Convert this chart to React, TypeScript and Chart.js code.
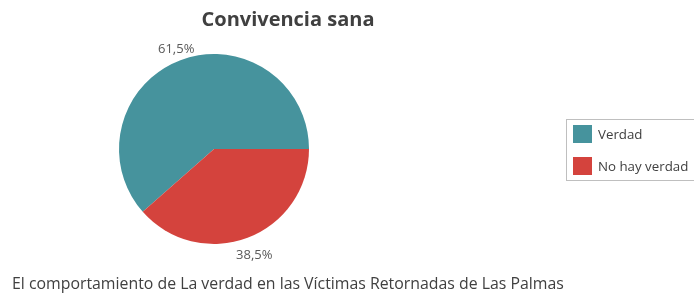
import React, { useEffect, useRef } from "react";
import { Chart, registerables } from "chart.js";

Chart.register(...registerables);

const categories = ["Verdad", "No hay verdad"];
const values = [61.5, 38.5];
const valueLabels = ["61,5%", "38,5%"];
const colors = ["#46939D", "#D4433D"];
const titleText = "Convivencia sana";
const captionText = "El comportamiento de La verdad en las Víctimas Retornadas de Las Palmas";

const FONT = "'Open Sans', 'Noto Sans', sans-serif";

const overlayPlugin = {
  id: "overlay",
  afterDraw(chart: any) {
    const ctx = chart.ctx as CanvasRenderingContext2D;
    ctx.save();
    // title
    ctx.fillStyle = "#404040";
    ctx.font = `bold 20px ${FONT}`;
    ctx.textAlign = "center";
    ctx.textBaseline = "alphabetic";
    ctx.fillText(titleText, 288, 26);

    // value labels outside slices
    const meta = chart.getDatasetMeta(0);
    ctx.font = `13px ${FONT}`;
    ctx.fillStyle = "#595959";
    ctx.textBaseline = "middle";
    meta.data.forEach((arc: any, i: number) => {
      const p = arc.getProps(["x", "y", "startAngle", "endAngle", "outerRadius"], true);
      const mid = (p.startAngle + p.endAngle) / 2;
      const r = p.outerRadius + (Math.sin(mid) > 0 ? 19 : 12);
      ctx.textAlign = "center";
      ctx.fillText(valueLabels[i], p.x + Math.cos(mid) * r, p.y + Math.sin(mid) * r);
    });

    // legend
    ctx.strokeStyle = "#BFBFBF";
    ctx.lineWidth = 1;
    ctx.strokeRect(566.5, 119.5, 140, 61);
    ctx.font = `13.3px ${FONT}`;
    ctx.textAlign = "left";
    ctx.textBaseline = "middle";
    categories.forEach((c, i) => {
      const y = 125 + i * 32;
      ctx.fillStyle = colors[i];
      ctx.fillRect(573, y, 19, 18);
      ctx.fillStyle = "#404040";
      ctx.fillText(c, 598, y + 10);
    });

    // caption
    ctx.font = `15.85px ${FONT}`;
    ctx.fillStyle = "#404040";
    ctx.textBaseline = "alphabetic";
    ctx.fillText(captionText, 12, 289);
    ctx.restore();
  },
};

export default function App() {
  const ref = useRef<HTMLCanvasElement>(null);
  useEffect(() => {
    document.body.style.margin = "0";
    const chart = new Chart(ref.current!, {
      type: "pie",
      data: {
        labels: categories,
        datasets: [
          {
            data: values,
            backgroundColor: colors,
            borderWidth: 0,
          },
        ],
      },
      options: {
        animation: false,
        responsive: false,
        rotation: 228.6,
        layout: { padding: { top: 54, bottom: 51, left: 119, right: 385 } },
        plugins: {
          legend: { display: false },
          tooltip: { enabled: false },
        },
      },
      plugins: [overlayPlugin],
    });
    return () => chart.destroy();
  }, []);
  return (
    <div style={{ width: 694, height: 295, background: "#fff" }}>
      <canvas ref={ref} width={694} height={295} style={{ display: "block" }} />
    </div>
  );
}
